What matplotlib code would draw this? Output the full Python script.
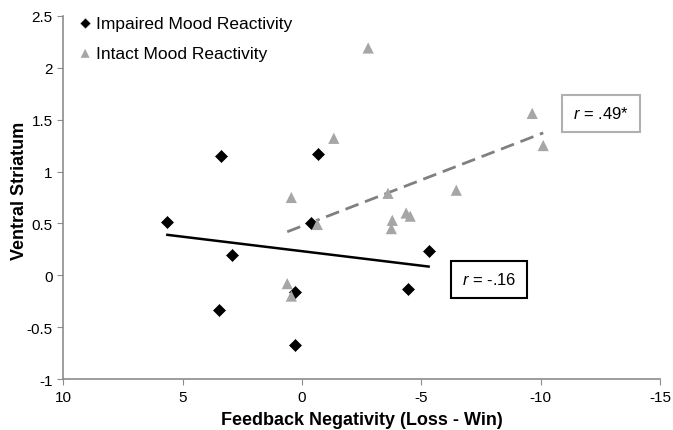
import numpy as np
import matplotlib
matplotlib.use("Agg")
import matplotlib.pyplot as plt

plt.rcParams['font.family'] = ['Liberation Sans', 'DejaVu Sans']
plt.rcParams['mathtext.fontset'] = 'custom'
plt.rcParams['mathtext.it'] = 'Liberation Sans:italic'
plt.rcParams['mathtext.rm'] = 'Liberation Sans'

# impaired mood reactivity (diamonds)
impaired_x = [5.64, 3.38, -0.68, 2.92, 3.47, 0.29, 0.28, -0.38, -5.3, -4.45]
impaired_y = [0.51, 1.15, 1.17, 0.20, -0.33, -0.16, -0.67, 0.50, 0.23, -0.13]

# intact mood reactivity (triangles)
intact_x = [-2.77, -9.64, -10.1, -1.33, 0.45, -3.6, -6.46, -0.64, -3.78,
            -3.74, -4.36, -4.53, 0.62, 0.45]
intact_y = [2.19, 1.56, 1.25, 1.32, 0.75, 0.79, 0.82, 0.49, 0.53,
            0.45, 0.60, 0.57, -0.08, -0.20]

x_ticks = [10, 5, 0, -5, -10, -15]
y_ticks = [-1, -0.5, 0, 0.5, 1, 1.5, 2, 2.5]
y_tick_labels = ['-1', '-0.5', '0', '0.5', '1', '1.5', '2', '2.5']

r_impaired = '$r$ = -.16'
r_intact = '$r$ = .49*'

axis_gray = '#8c8c8c'
tri_gray = '#a6a6a6'

fig = plt.figure(figsize=(6.73, 4.31), dpi=100)
ax = fig.add_axes([0.094, 0.118, 0.887, 0.843])

ax.scatter(impaired_x, impaired_y, marker='D', s=52, color='black',
           edgecolors='white', linewidths=0.6, zorder=3,
           label='Impaired Mood Reactivity')
ax.scatter(intact_x, intact_y, marker='^', s=65, color=tri_gray,
           edgecolors='none', zorder=3, label='Intact Mood Reactivity')

# trend lines fitted over each group's range
def trend(xs, ys):
    xs = np.array(xs)
    k, b = np.polyfit(xs, np.array(ys), 1)
    xr = np.array([xs.max(), xs.min()])
    return xr, k * xr + b

tx, ty = trend(impaired_x, impaired_y)
ax.plot(tx, ty, color='black', lw=1.8, zorder=2)
tx, ty = trend(intact_x, intact_y)
ax.plot(tx, ty, color='#808080', lw=2, dashes=(5, 2.5), zorder=2)

ax.text(-12.53, 1.56, r_intact, fontsize=12, ha='center', va='center',
        bbox=dict(boxstyle='square,pad=0.65', fc='white', ec='#b0b0b0', lw=1.5))
ax.text(-7.84, -0.04, r_impaired, fontsize=12, ha='center', va='center',
        bbox=dict(boxstyle='square,pad=0.65', fc='white', ec='black', lw=1.5))

ax.set_xlim(10, -15)
ax.set_ylim(-1, 2.5)
ax.set_xticks(x_ticks)
ax.set_xticklabels([str(t) for t in x_ticks])
ax.set_yticks(y_ticks)
ax.set_yticklabels(y_tick_labels)
ax.tick_params(axis='both', labelsize=11, color=axis_gray, length=4,
               direction='out')

for side in ['top', 'right']:
    ax.spines[side].set_visible(False)
for side in ['left', 'bottom']:
    ax.spines[side].set_color(axis_gray)
    ax.spines[side].set_linewidth(1.2)

ax.set_xlabel('Feedback Negativity (Loss - Win)', fontsize=13,
              fontweight='bold', labelpad=5)
ax.set_ylabel('Ventral Striatum', fontsize=13, fontweight='bold')
ax.yaxis.set_label_coords(-0.059, 0.52)

leg = ax.legend(loc='upper left', frameon=False, fontsize=12.5,
                handlelength=0.8, handletextpad=0.2, markerscale=0.8,
                borderaxespad=0.0, borderpad=0.0, labelspacing=0.85,
                bbox_to_anchor=(0.025, 1.0))

fig.savefig('out.png', dpi=100)
